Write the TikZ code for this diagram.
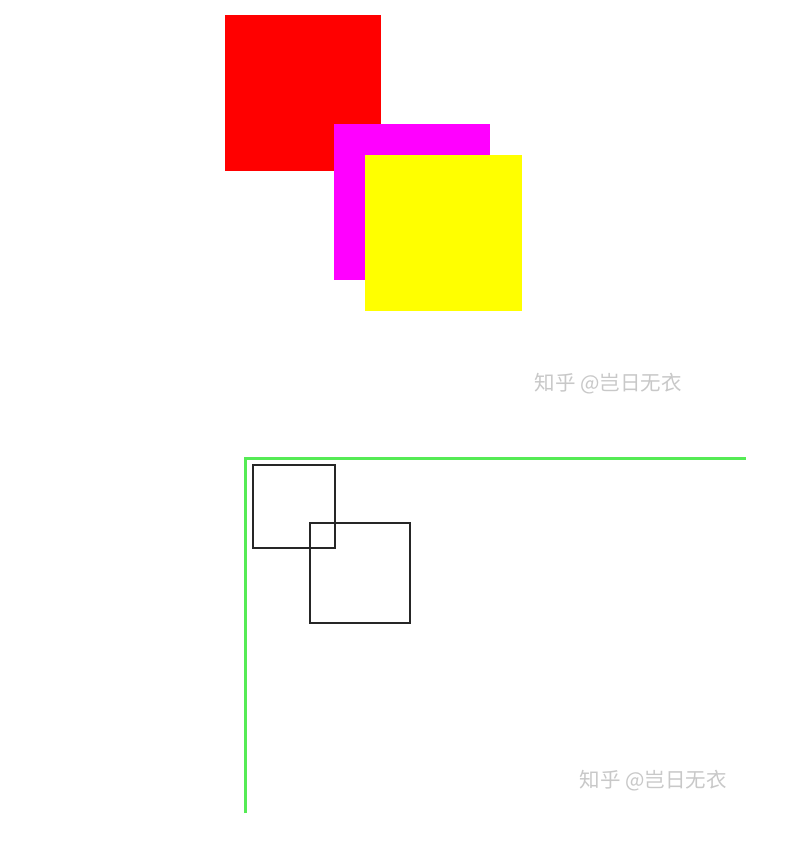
\documentclass[tikz,border=0pt]{standalone}
\usepackage{fontspec}
\newfontfamily\cjk{Noto Sans CJK SC}
\definecolor{lgreen}{RGB}{85,235,85}
\definecolor{wmgray}{RGB}{200,200,200}
\definecolor{purered}{RGB}{255,0,0}
\definecolor{puremag}{RGB}{255,0,255}
\definecolor{pureyel}{RGB}{255,255,0}
\begin{document}
\begin{tikzpicture}[x=1pt,y=-1pt,
  outline/.style={draw=black!85,line width=2.2pt},
  frame/.style={draw=lgreen,line width=3pt},
  wmark/.style={text=wmgray,font=\cjk\fontsize{20.5}{24}\selectfont,inner sep=0pt}]
\useasboundingbox[fill=white] (0,0) rectangle (790,842);
\fill[purered] (225,15) rectangle (381,171);
\fill[puremag] (334,124) rectangle (490,280);
\fill[pureyel] (365,155) rectangle (522,311);
\node[wmark] (w1) at (608,384) {知乎 @岂日无衣};
\draw[frame] (245,813) -- (245,458) -- (746,458);
\draw[outline] (253,465) rectangle (335,548);
\draw[outline] (310,523) rectangle (410,623);
\node[wmark] (w2) at (653,781) {知乎 @岂日无衣};
\end{tikzpicture}
\end{document}
